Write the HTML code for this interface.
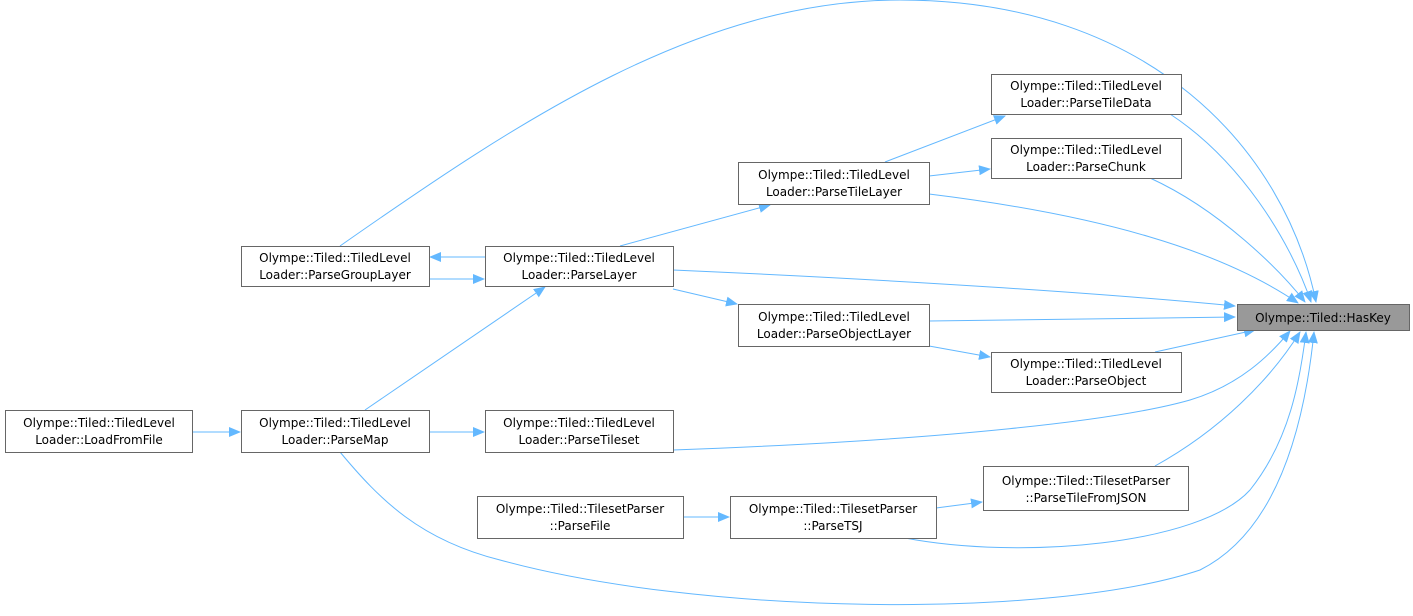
<!DOCTYPE html>
<html><head><meta charset="utf-8"><style>
html,body{margin:0;padding:0;background:#fff;width:1413px;height:616px;overflow:hidden}
svg text{font-family:"DejaVu Sans","Liberation Sans",sans-serif;font-size:12px;fill:#000}
</style></head><body>
<svg width="1413" height="616" viewBox="0 0 1413 616" xmlns="http://www.w3.org/2000/svg">
<defs><marker id="a" markerWidth="12" markerHeight="10" refX="11" refY="5" orient="auto" markerUnits="userSpaceOnUse"><polygon points="0,0 12,5 0,10" fill="#63b8ff"/></marker></defs>
<g fill="none" stroke="#63b8ff" stroke-width="1" marker-end="url(#a)">
<path d="M340,246 C520,120 700,0 900,0 C1150,0 1285,150 1316,302"/>
<path d="M1170,114 C1240,160 1290,240 1311,302"/>
<path d="M1150,178 C1220,210 1280,270 1305,302"/>
<path d="M929,194 C1100,215 1220,250 1298,303"/>
<path d="M673,270 C900,280 1100,293 1235,306"/>
<path d="M929,321 L1235,317"/>
<path d="M1155,352 L1255,330"/>
<path d="M673,450 C950,440 1120,420 1190,400 C1240,385 1270,355 1290,331"/>
<path d="M1155,466 C1220,430 1270,380 1300,332"/>
<path d="M905,538 C1020,560 1200,545 1250,490 C1290,440 1300,380 1306,332"/>
<path d="M340,452 C380,500 420,540 500,560 C700,615 1050,620 1200,570 C1280,530 1305,420 1314,332"/>
<path d="M885,162 L1005,116"/>
<path d="M929,176 L990,169"/>
<path d="M620,246 L770,205"/>
<path d="M485,257 L430,257"/>
<path d="M429,279 L484,279"/>
<path d="M365,410 L545,287"/>
<path d="M673,289 L737,304"/>
<path d="M929,346 L990,357"/>
<path d="M429,432 L484,432"/>
<path d="M192,432 L240,432"/>
<path d="M683,517 L729,517"/>
<path d="M936,508 L982,502"/>
</g>
<g stroke="#666" stroke-width="1" fill="#fff">
<rect x="1237.5" y="304.5" width="172" height="26" fill="#999"/>
<rect x="241.5" y="246.5" width="188" height="40"/>
<rect x="485.5" y="246.5" width="188" height="40"/>
<rect x="5.5" y="410.5" width="187" height="42"/>
<rect x="241.5" y="410.5" width="188" height="42"/>
<rect x="485.5" y="410.5" width="188" height="42"/>
<rect x="738.5" y="162.5" width="191" height="42"/>
<rect x="738.5" y="304.5" width="191" height="42"/>
<rect x="991.5" y="74.5" width="190" height="40"/>
<rect x="991.5" y="138.5" width="190" height="40"/>
<rect x="991.5" y="352.5" width="190" height="40"/>
<rect x="983.5" y="466.5" width="205" height="44"/>
<rect x="730.5" y="496.5" width="206" height="42"/>
<rect x="477.5" y="496.5" width="206" height="42"/>
</g>
<g text-anchor="middle">
<text x="1323" y="322">Olympe::Tiled::HasKey</text>
<text x="335" y="262">Olympe::Tiled::TiledLevel</text><text x="335" y="279">Loader::ParseGroupLayer</text>
<text x="579" y="262">Olympe::Tiled::TiledLevel</text><text x="579" y="279">Loader::ParseLayer</text>
<text x="99" y="427">Olympe::Tiled::TiledLevel</text><text x="99" y="444">Loader::LoadFromFile</text>
<text x="335" y="427">Olympe::Tiled::TiledLevel</text><text x="335" y="444">Loader::ParseMap</text>
<text x="579" y="427">Olympe::Tiled::TiledLevel</text><text x="579" y="444">Loader::ParseTileset</text>
<text x="834" y="179">Olympe::Tiled::TiledLevel</text><text x="834" y="196">Loader::ParseTileLayer</text>
<text x="834" y="321">Olympe::Tiled::TiledLevel</text><text x="834" y="338">Loader::ParseObjectLayer</text>
<text x="1086" y="90">Olympe::Tiled::TiledLevel</text><text x="1086" y="107">Loader::ParseTileData</text>
<text x="1086" y="154">Olympe::Tiled::TiledLevel</text><text x="1086" y="171">Loader::ParseChunk</text>
<text x="1086" y="368">Olympe::Tiled::TiledLevel</text><text x="1086" y="385">Loader::ParseObject</text>
<text x="1086" y="485">Olympe::Tiled::TilesetParser</text><text x="1086" y="502">::ParseTileFromJSON</text>
<text x="833" y="513">Olympe::Tiled::TilesetParser</text><text x="833" y="530">::ParseTSJ</text>
<text x="580" y="513">Olympe::Tiled::TilesetParser</text><text x="580" y="530">::ParseFile</text>
</g>
</svg>
</body></html>
